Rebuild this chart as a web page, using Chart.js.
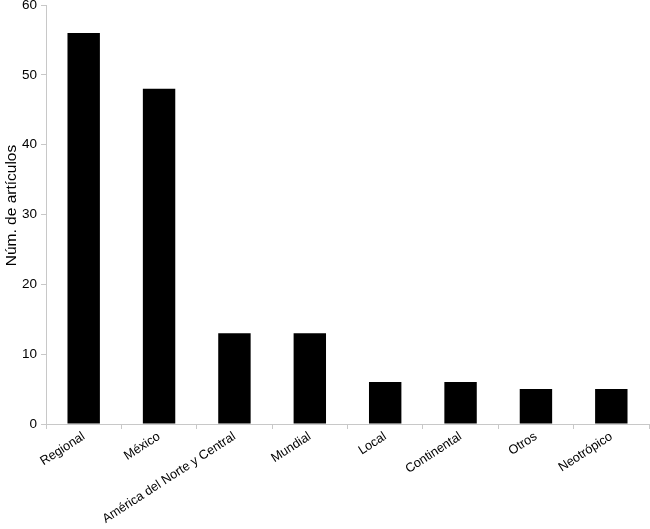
<!DOCTYPE html>
<html><head><meta charset="utf-8">
<script src="https://cdn.jsdelivr.net/npm/chart.js@4"></script>
<style>html,body{margin:0;padding:0;background:#fff}#w{width:650px;height:529px}</style>
</head><body><div id="w"><canvas id="c"></canvas></div>
<script>
const categories = ["Regional","México","América del Norte y Central","Mundial","Local","Continental","Otros","Neotrópico"];
const values = [56,48,13,13,6,6,5,5];
const yTitle = "Núm. de artículos";
const font = "'Liberation Sans', Arial, Helvetica, sans-serif";
const yTitlePlugin = {
  id: 'yTitle',
  afterDraw(chart) {
    const ctx = chart.ctx, a = chart.chartArea;
    ctx.save();
    ctx.translate(12, (a.top + a.bottom) / 2 - 9);
    ctx.rotate(-Math.PI / 2);
    ctx.fillStyle = '#000';
    ctx.font = "15.5px " + font;
    ctx.textAlign = 'center';
    ctx.textBaseline = 'middle';
    ctx.fillText(yTitle, 0, 0);
    ctx.restore();
  }
};
new Chart(document.getElementById('c'), {
  type: 'bar',
  data: { labels: categories, datasets: [{ data: values, backgroundColor: '#000', barPercentage: 0.43, categoryPercentage: 1 }] },
  plugins: [yTitlePlugin],
  options: {
    responsive: true, maintainAspectRatio: false, animation: false,
    layout: { padding: { top: 0, right: 1, left: 0, bottom: 0 } },
    plugins: { legend: { display: false }, tooltip: { enabled: false } },
    scales: {
      x: {
        offset: true,
        afterFit: s => { s.height = 105; },
        grid: { offset: true, drawOnChartArea: false, drawTicks: true, tickLength: 5, color: '#c8c8c8' },
        border: { color: '#c8c8c8' },
        ticks: { color: '#000', font: { family: font, size: 12.7 }, minRotation: 33, maxRotation: 33, padding: 0 }
      },
      y: {
        min: 0, max: 60,
        afterFit: s => { s.width = 46; s.paddingTop = 5; },
        grid: { drawOnChartArea: false, drawTicks: true, tickLength: 5, color: '#c8c8c8' },
        border: { color: '#c8c8c8' },
        ticks: { stepSize: 10, color: '#000', font: { family: font, size: 13.5 }, padding: 4 },
        title: { display: false, text: yTitle }
      }
    }
  }
});
</script></body></html>
